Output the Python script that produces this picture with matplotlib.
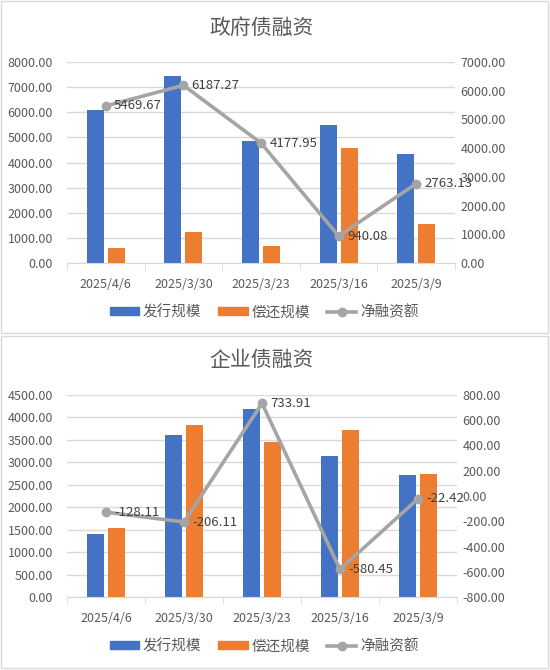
import matplotlib.pyplot as plt
from matplotlib.patches import Rectangle, Patch
from matplotlib.lines import Line2D
import numpy as np

plt.rcParams['font.family'] = ['Noto Sans CJK SC', 'DejaVu Sans']

dates = ['2025/4/6', '2025/3/30', '2025/3/23', '2025/3/16', '2025/3/9']

# 政府债
gov_issue = [6080, 7430, 4840, 5500, 4330]
gov_repay = [610, 1243, 662, 4560, 1567]
gov_net = [5469.67, 6187.27, 4177.95, 940.08, 2763.13]

# 企业债
corp_issue = [1410, 3615, 4178, 3140, 2715]
corp_repay = [1538, 3821, 3444, 3720, 2737]
corp_net = [-128.11, -206.11, 733.91, -580.45, -22.42]

BLUE = '#4472c4'
ORANGE = '#ed7d31'
GRAY = '#a5a5a5'
TXT = '#595959'
GRID = '#d9d9d9'

fig = plt.figure(figsize=(5.5, 6.7), dpi=100)
W, H = 550, 670


def px(x, y, w, h):
    # pixel box (top-left origin) -> figure fraction rect
    return [x / W, 1 - (y + h) / H, w / W, h / H]


def panel(rect, title, title_y, legend_y, issue, repay, net, lmax, lstep, rlim, rstep):
    ax = fig.add_axes(rect)
    x = np.arange(len(dates))
    bw = 0.22
    ax.bar(x - 0.135, issue, bw, color=BLUE, zorder=2)
    ax.bar(x + 0.135, repay, bw, color=ORANGE, zorder=2)
    ax.set_xlim(-0.5, len(dates) - 0.5)
    ax.set_ylim(0, lmax)
    ax.set_yticks(np.arange(0, lmax + 1, lstep))
    ax.set_yticklabels([f'{v:.2f}' for v in np.arange(0, lmax + 1, lstep)])
    ax.grid(axis='y', color=GRID, lw=1, zorder=0)
    ax.set_axisbelow(True)
    ax.set_xticks(x)
    ax.set_xticklabels(dates)
    ax.set_xticks(np.arange(-0.5, len(dates)), minor=True)
    ax.tick_params(axis='x', which='major', length=0, pad=11, colors=TXT, labelsize=9)
    ax.tick_params(axis='x', which='minor', length=5, color=GRID)
    ax.tick_params(axis='y', length=0, pad=10, colors=TXT, labelsize=9)
    for s in ['top', 'left', 'right']:
        ax.spines[s].set_visible(False)
    ax.spines['bottom'].set_color(GRID)

    ax2 = ax.twinx()
    ax2.plot(x, net, color=GRAY, lw=2.6, marker='o', ms=6, zorder=3)
    ax2.set_ylim(*rlim)
    rt = np.arange(rlim[0], rlim[1] + 1, rstep)
    ax2.set_yticks(rt)
    ax2.set_yticklabels([f'{v:.2f}' for v in rt])
    ax2.tick_params(axis='y', length=0, pad=4, colors=TXT, labelsize=9)
    for s in ax2.spines.values():
        s.set_visible(False)
    for xi, v in zip(x, net):
        ax2.annotate(f'{v:.2f}', (xi, v), xytext=(6, 0), textcoords='offset points',
                     va='center', ha='left', fontsize=9.5, color='#404040')

    fig.text(0.475, title_y, title, ha='center', va='center', fontsize=15, color=TXT)
    handles = [Patch(color=BLUE), Patch(color=ORANGE),
               Line2D([], [], color=GRAY, lw=2.6, marker='o', ms=6)]
    fig.legend(handles, ['发行规模', '偿还规模', '净融资额'], loc='center',
               bbox_to_anchor=(0.48, legend_y), ncol=3, frameon=False,
               fontsize=10.5, labelcolor=TXT, handlelength=2.0, handleheight=0.5,
               columnspacing=1.2, handletextpad=0.25)


# panel borders
fig.add_artist(Rectangle((1 / W, 1 - 333 / H), 547 / W, 332 / H, transform=fig.transFigure,
                         fill=False, ec=GRID, lw=1))
fig.add_artist(Rectangle((1 / W, 1 - 668 / H), 547 / W, 332 / H, transform=fig.transFigure,
                         fill=False, ec=GRID, lw=1))

panel(px(67, 62, 388, 201), '政府债融资', 1 - 28 / H, 1 - 312 / H,
      gov_issue, gov_repay, gov_net, 8000, 1000, (0, 7000), 1000)
panel(px(67, 395, 390, 202), '企业债融资', 1 - 360 / H, 1 - 646 / H,
      corp_issue, corp_repay, corp_net, 4500, 500, (-800, 800), 200)

fig.savefig('out.png', dpi=100)
